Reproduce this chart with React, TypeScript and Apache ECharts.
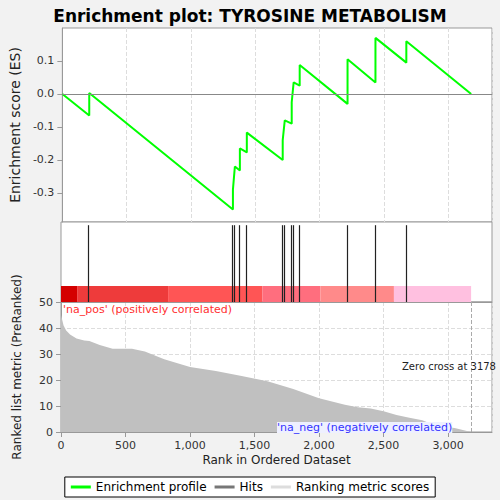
import { useEffect, useRef } from 'react'
import * as echarts from 'echarts'

const esPoints: [number, number][] = [
  [0, 0], [209, -0.065], [209, 0.003], [1326, -0.35], [1326, -0.29], [1341, -0.22],
  [1380, -0.232], [1380, -0.165], [1434, -0.177], [1434, -0.117], [1713, -0.2], [1713, -0.14],
  [1729, -0.08], [1783, -0.09], [1783, -0.025], [1798, 0.035], [1845, 0.025], [1845, 0.088],
  [2217, -0.03], [2217, 0.105], [2434, 0.035], [2434, 0.17], [2674, 0.095], [2674, 0.16],
  [3178, 0],
]
const esTicks = [-0.3, -0.2, -0.1, 0, 0.1]
const hits = [209, 1326, 1341, 1380, 1434, 1713, 1729, 1783, 1798, 1845, 2217, 2434, 2674]
const metricPoints: [number, number][] = [
  [0, 45], [10, 43], [20, 41], [40, 39], [70, 37.5], [120, 36], [180, 35.2], [220, 35], [300, 33.5],
  [400, 32], [550, 32], [650, 31], [800, 28], [1000, 25], [1200, 23.5], [1400, 21.5], [1600, 19.5],
  [1800, 16.5], [2000, 13], [2200, 10.5], [2300, 9.5], [2400, 9], [2500, 8], [2600, 6.5],
  [2700, 5.5], [2800, 4.5], [2900, 2.5], [3050, 1.5], [3178, 0],
]
const bandEdges = [0, 125, 830, 1560, 2010, 2580, 3178]
const bandColors = ['#d40000', '#ee3b3b', '#ff5555', '#ff6e7e', '#ff8a8a', '#ffc0e0']
const zeroCross = 3178
const xMax = 3340

export default function App() {
  const ref = useRef<HTMLDivElement>(null)

  useEffect(() => {
    if (!ref.current) return
    const chart = echarts.init(ref.current, undefined, { renderer: 'svg' })
    const font = 'DejaVu Sans'
    const axisX = (i: number, show: boolean) => ({
      type: 'value', gridIndex: i, min: 0, max: xMax, interval: 500,
      axisLine: { show: true, lineStyle: { color: '#999' } },
      axisTick: { show },
      axisLabel: { show, showMaxLabel: false, color: '#333', fontFamily: font, fontSize: 11 },
      splitLine: { show: i !== 1, lineStyle: { type: 'dashed', color: '#ddd' } },
      name: show ? 'Rank in Ordered Dataset' : '',
      nameLocation: 'middle', nameGap: 22,
      nameTextStyle: { color: '#222', fontFamily: font, fontSize: 12 },
    })
    chart.setOption({
      animation: false,
      backgroundColor: '#f2f2f2',
      title: {
        text: 'Enrichment plot: TYROSINE METABOLISM', left: 'center', top: 2,
        textStyle: { fontFamily: font, fontSize: 17, fontWeight: 'bold', color: '#000' },
      },
      grid: [
        { left: 61, right: 8, top: 28, height: 194, backgroundColor: '#fff', show: true, borderColor: '#999' },
        { left: 61, right: 8, top: 222, height: 80, backgroundColor: '#fff', show: true, borderColor: '#999' },
        { left: 61, right: 8, top: 302, height: 130, backgroundColor: '#fff', show: true, borderColor: '#999' },
      ],
      xAxis: [axisX(0, false), axisX(1, false), axisX(2, true)],
      yAxis: [
        {
          type: 'value', gridIndex: 0, min: -0.388, max: 0.2,
          axisLabel: { customValues: esTicks, color: '#333', fontFamily: font, fontSize: 11, formatter: (v: number) => v.toFixed(1) },
          axisLine: { show: true, lineStyle: { color: '#999' } },
          axisTick: { show: true, customValues: esTicks },
          splitLine: { show: false },
          name: 'Enrichment score (ES)', nameLocation: 'middle', nameGap: 38,
          nameTextStyle: { color: '#222', fontFamily: font, fontSize: 14 },
        },
        { type: 'value', gridIndex: 1, min: 0, max: 1, show: false },
        {
          type: 'value', gridIndex: 2, min: 0, max: 50, interval: 10,
          axisLabel: { color: '#333', fontFamily: font, fontSize: 11 },
          axisLine: { show: true, lineStyle: { color: '#999' } }, axisTick: { show: true },
          splitLine: { lineStyle: { type: 'dashed', color: '#ddd' } },
          name: 'Ranked list metric (PreRanked)', nameLocation: 'middle', nameGap: 38,
          nameTextStyle: { color: '#222', fontFamily: font, fontSize: 12 },
        },
      ],
      legend: {
        bottom: 3, left: 'center', itemWidth: 20, itemHeight: 3,
        backgroundColor: '#fff', borderColor: '#000', borderWidth: 1, padding: [4, 6], borderRadius: 0,
        textStyle: { fontFamily: font, fontSize: 12, color: '#000' },
        data: [
          { name: 'Enrichment profile', icon: 'rect', itemStyle: { color: '#00ff00' } },
          { name: 'Hits', icon: 'rect', itemStyle: { color: '#777' } },
          { name: 'Ranking metric scores', icon: 'rect', itemStyle: { color: '#ddd' } },
        ],
      },
      series: [
        {
          name: 'Enrichment profile', type: 'line', xAxisIndex: 0, yAxisIndex: 0, data: esPoints,
          showSymbol: false, lineStyle: { color: '#00ff00', width: 2 }, itemStyle: { color: '#00ff00' },
          markLine: { silent: true, symbol: 'none', label: { show: false }, lineStyle: { color: '#888', type: 'solid', width: 1 }, data: [{ yAxis: 0 }] },
        },
        {
          name: 'Hits', type: 'line', xAxisIndex: 1, yAxisIndex: 1, data: [], itemStyle: { color: '#777' },
          markArea: {
            silent: true,
            data: bandColors.map((c, i) => [
              { xAxis: bandEdges[i], yAxis: 0, itemStyle: { color: c } },
              { xAxis: bandEdges[i + 1], yAxis: 0.2 },
            ]),
          },
          markLine: {
            silent: true, symbol: 'none', label: { show: false },
            lineStyle: { color: '#222', type: 'solid', width: 1.2 },
            data: hits.map(h => [{ coord: [h, 0] }, { coord: [h, 0.96] }]),
          },
        },
        {
          name: 'Ranking metric scores', type: 'line', xAxisIndex: 2, yAxisIndex: 2, data: metricPoints,
          showSymbol: false, lineStyle: { width: 0 }, areaStyle: { color: '#c0c0c0', opacity: 1 },
          itemStyle: { color: '#ddd' },
          markLine: {
            silent: true, symbol: 'none', label: { show: false },
            lineStyle: { color: '#aaa', type: 'dashed', width: 1 }, data: [{ xAxis: zeroCross }],
          },
        },
      ],
      graphic: [
        { type: 'text', z: 100, left: 63, top: 304, style: { text: "'na_pos' (positively correlated)", fill: '#ff3030', font: `11px ${font}` } },
        { type: 'text', z: 100, left: 277, top: 422, style: { text: "'na_neg' (negatively correlated)", fill: '#3333ff', font: `11px ${font}`, backgroundColor: '#eef0ff' } },
        { type: 'text', z: 100, left: 402, top: 361, style: { text: 'Zero cross at 3178', fill: '#222', font: `10px ${font}` } },
      ],
    })
    return () => chart.dispose()
  }, [])

  return <div ref={ref} style={{ position: 'fixed', left: 0, top: 0, width: 500, height: 500 }} />
}
